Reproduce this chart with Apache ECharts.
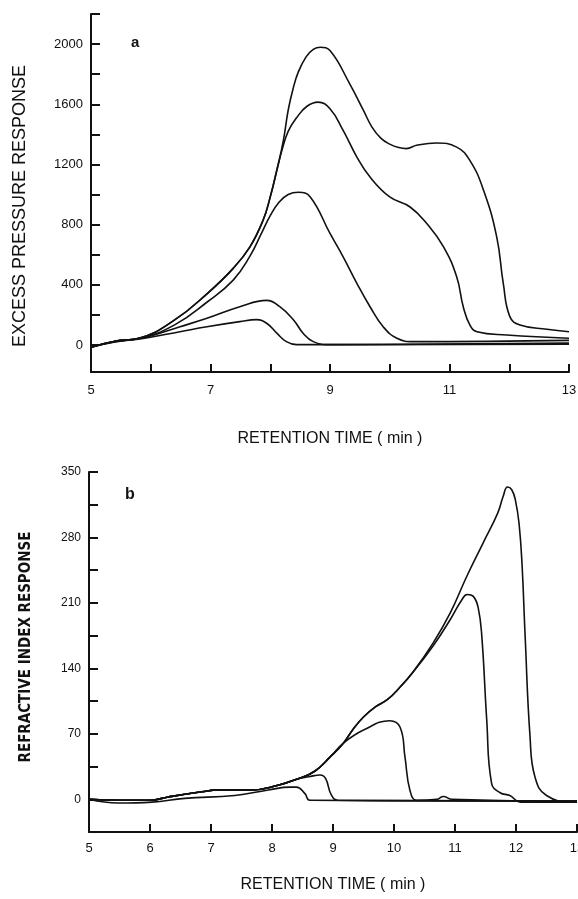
<!DOCTYPE html>
<html><head><meta charset="utf-8">
<script src="https://cdn.jsdelivr.net/npm/echarts@6/dist/echarts.min.js"></script>
<style>html,body{margin:0;padding:0;background:#fff}#c{width:578px;height:899px}</style>
</head><body><div id="c"></div>
<script>
// ---- Panel a : tick labels ----
const aXTicks = [5, 6, 7, 8, 9, 10, 11, 12, 13];
const aXLabels = [5, 7, 9, 11, 13];
const aYTicks = [0, 200, 400, 600, 800, 1000, 1200, 1400, 1600, 1800, 2000, 2200];
const aYLabels = [0, 400, 800, 1200, 1600, 2000];
// ---- Panel b : tick labels ----
const bXTicks = [5, 6, 7, 8, 9, 10, 11, 12, 13];
const bYTicks = [-35, 0, 35, 70, 105, 140, 175, 210, 245, 280, 315, 350];
const bYLabels = [0, 70, 140, 210, 280, 350];

// ---- Panel a : excess pressure curves [time, response] ----
const a1 = [[5,-15],[5.4,25],[5.8,44],[6.4,166],[6.95,343],[7.38,509],[7.66,652],[7.88,829],[8.0,984],[8.11,1161],[8.22,1360],[8.3,1560],[8.38,1700],[8.47,1815],[8.6,1915],[8.72,1965],[8.84,1979],[9.0,1957],[9.33,1736],[9.56,1559],[9.7,1450],[9.85,1375],[10.0,1335],[10.15,1312],[10.28,1305],[10.45,1327],[10.78,1342],[11.12,1315],[11.34,1227],[11.57,1028],[11.79,718],[11.9,409],[12.01,188],[12.18,133],[12.63,104],[13.0,88]];
const a2 = [[5,-15],[5.4,25],[5.8,44],[6.4,166],[6.95,343],[7.38,509],[7.66,652],[7.88,829],[8.0,984],[8.11,1161],[8.2,1300],[8.3,1420],[8.44,1510],[8.61,1585],[8.8,1614],[9.0,1570],[9.22,1426],[9.45,1249],[9.67,1116],[10.0,984],[10.34,917],[10.62,807],[10.9,652],[11.12,453],[11.23,254],[11.34,133],[11.46,88],[11.96,66],[13.0,44]];
const a3 = [[5,-15],[5.4,25],[5.8,42],[6.4,133],[6.95,287],[7.38,431],[7.66,590],[7.85,740],[8.0,860],[8.15,950],[8.3,1000],[8.47,1015],[8.67,984],[9.0,741],[9.22,586],[9.45,409],[9.67,254],[9.89,121],[10.12,44],[10.4,22],[13.0,30]];
const a4 = [[5,-15],[5.4,22],[5.9,50],[6.49,121],[6.94,177],[7.49,254],[7.94,296],[8.16,254],[8.39,166],[8.55,78],[8.72,22],[9.0,2],[13.0,12]];
const a5 = [[5,-15],[5.4,20],[5.9,45],[6.49,88],[6.94,121],[7.49,155],[7.77,168],[7.94,144],[8.11,78],[8.27,22],[8.44,2],[13.0,5]];

// ---- Panel b : refractive index curves [time, response] ----
const b1 = [[5,0],[5.5,-1],[6.0,-1],[6.3,2.5],[6.85,8],[7.12,10],[7.67,10],[8.1,15],[8.43,22],[8.7,30],[8.95,45],[9.17,60],[9.33,75],[9.5,88],[9.7,99],[9.9,107],[10.1,120],[10.3,135],[10.64,167],[10.92,199],[11.19,238],[11.46,274],[11.7,306],[11.79,324],[11.86,334],[11.93,331],[11.99,320],[12.05,295],[12.1,250],[12.15,174],[12.23,67],[12.31,24],[12.5,4],[12.94,-3],[13.0,-3]];
const b2 = [[5,0],[5.5,-1],[6.0,-1],[6.3,2.5],[6.85,8],[7.12,10],[7.67,10],[8.1,15],[8.43,22],[8.7,30],[8.95,45],[9.17,60],[9.33,75],[9.5,88],[9.7,99],[9.9,107],[10.1,120],[10.3,135],[10.64,164],[10.92,192],[11.1,212],[11.2,219],[11.3,217],[11.38,205],[11.44,174],[11.52,85],[11.6,17],[11.74,7],[11.9,4],[12.07,-3],[13.0,-3]];
const b3 = [[5,0],[5.5,-1],[6.0,-1],[6.3,2.5],[6.85,8],[7.12,10],[7.67,10],[8.1,15],[8.43,22],[8.7,30],[8.95,45],[9.17,60],[9.5,74],[9.93,84],[10.1,77],[10.18,45],[10.26,10],[10.37,-1],[10.7,0],[10.81,3],[10.95,0],[13.0,-2]];
const b4 = [[5,0],[5.5,-1],[6.0,-1],[6.3,2.5],[6.85,8],[7.12,10],[7.67,10],[8.1,15],[8.43,22],[8.6,24],[8.79,26],[8.88,22],[8.97,5],[9.08,-1],[13.0,-2]];
const b5 = [[5,0],[5.48,-4],[6.03,-3],[6.57,1],[7.39,4],[7.94,10],[8.3,13],[8.4,13],[8.54,6],[8.62,-1],[13.0,-2]];

const FONT = 'Liberation Sans, Arial, Helvetica, sans-serif';
const INK = '#111';

function mkLine(data, xi) {
  return {
    type: 'line', data: data, xAxisIndex: xi, yAxisIndex: xi,
    smooth: 0.45, showSymbol: false, symbol: 'none', silent: true,
    lineStyle: { color: INK, width: 1.6 }, z: 3
  };
}
const plain = v => String(v);

const chart = echarts.init(document.getElementById('c'), null, { renderer: 'canvas' });
chart.setOption({
  animation: false,
  backgroundColor: '#fff',
  title: [
    { text: 'a', left: 126, top: 30, textStyle: { fontFamily: FONT, fontWeight: 'bold', fontSize: 15, color: INK } },
    { text: 'b', left: 120, top: 482, textStyle: { fontFamily: FONT, fontWeight: 'bold', fontSize: 16, color: INK } }
  ],
  grid: [
    { left: 91, top: 14, width: 478, height: 358, containLabel: false, outerBoundsMode: 'none' },
    { left: 89, top: 472, width: 488, height: 360, containLabel: false, outerBoundsMode: 'none' }
  ],
  xAxis: [
    {
      gridIndex: 0, type: 'value', min: 5, max: 13, interval: 1,
      name: 'RETENTION TIME ( min )', nameLocation: 'middle', nameGap: 59,
      nameTextStyle: { fontFamily: FONT, fontSize: 16, color: INK },
      axisLine: { show: true, onZero: false, lineStyle: { color: INK, width: 2 } },
      axisTick: { show: true, inside: true, length: 8, customValues: aXTicks, lineStyle: { color: INK, width: 2 } },
      axisLabel: { customValues: aXLabels, formatter: plain, margin: 12, fontFamily: FONT, fontSize: 13, color: INK },
      splitLine: { show: false }
    },
    {
      gridIndex: 1, type: 'value', min: 5, max: 13, interval: 1,
      name: 'RETENTION TIME ( min )', nameLocation: 'middle', nameGap: 45,
      nameTextStyle: { fontFamily: FONT, fontSize: 16, color: INK },
      axisLine: { show: true, onZero: false, lineStyle: { color: INK, width: 2 } },
      axisTick: { show: true, inside: true, length: 8, customValues: bXTicks, lineStyle: { color: INK, width: 2 } },
      axisLabel: { customValues: bXTicks, formatter: plain, margin: 10, fontFamily: FONT, fontSize: 13, color: INK },
      splitLine: { show: false }
    }
  ],
  yAxis: [
    {
      gridIndex: 0, type: 'value', min: -180, max: 2200,
      name: 'EXCESS PRESSURE RESPONSE', nameLocation: 'middle', nameGap: 62, nameRotate: 90,
      nameTextStyle: { fontFamily: FONT, fontSize: 18, color: INK, padding: [0, 26, 0, 0] },
      axisLine: { show: true, onZero: false, lineStyle: { color: INK, width: 2 } },
      axisTick: { show: true, inside: true, length: 9, customValues: aYTicks, lineStyle: { color: INK, width: 2 } },
      axisLabel: { customValues: aYLabels, formatter: plain, margin: 8, fontFamily: FONT, fontSize: 13, color: INK },
      splitLine: { show: false }
    },
    {
      gridIndex: 1, type: 'value', min: -35, max: 350, interval: 35,
      name: 'REFRACTIVE INDEX RESPONSE', nameLocation: 'middle', nameGap: 55, nameRotate: 90,
      nameTextStyle: { fontFamily: 'Liberation Sans Narrow, DejaVu Sans Condensed, ' + FONT, fontWeight: 'bold', fontSize: 15, color: INK, padding: [0, 0, 0, 10] },
      axisLine: { show: true, onZero: false, lineStyle: { color: INK, width: 2 } },
      axisTick: { show: true, inside: true, length: 9, customValues: bYTicks, lineStyle: { color: INK, width: 2 } },
      axisLabel: { customValues: bYLabels, formatter: plain, margin: 8, fontFamily: FONT, fontSize: 12, color: INK },
      splitLine: { show: false }
    }
  ],
  series: [
    mkLine(a1, 0), mkLine(a2, 0), mkLine(a3, 0), mkLine(a4, 0), mkLine(a5, 0),
    mkLine(b1, 1), mkLine(b2, 1), mkLine(b3, 1), mkLine(b4, 1), mkLine(b5, 1)
  ]
});
</script>
</body></html>
